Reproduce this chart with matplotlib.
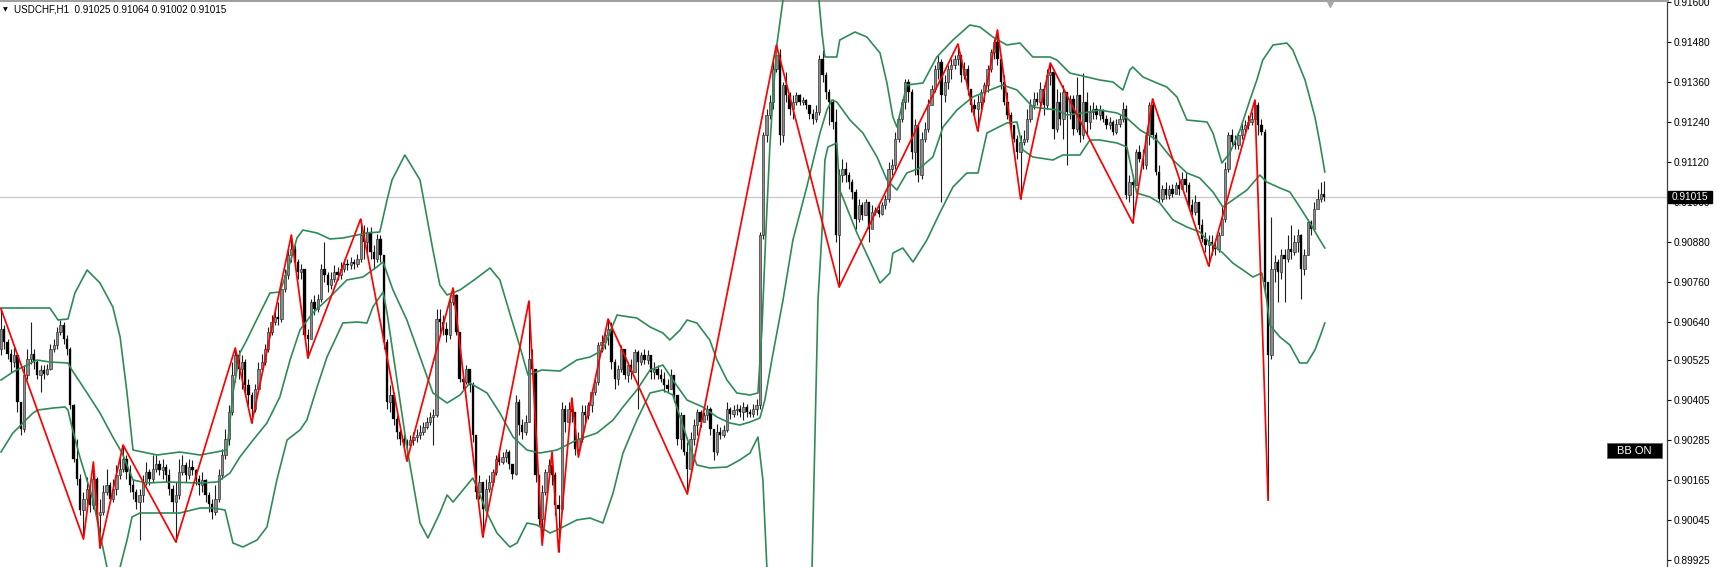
import matplotlib
matplotlib.use("Agg")
import matplotlib.pyplot as plt
from matplotlib.patches import Rectangle
import matplotlib.transforms as mtransforms
import numpy as np

# ---------------- data (prices in points above 0.90000, 1 point = 0.00001) ----------------
BASE = 0.90000
POINT = 0.00001

first_open = 560
close_pts = [620, 580, 545, 520, 540, 400, 320, 480, 530, 545,
             520, 480, 495, 485, 500, 560, 570, 610, 630, 590,
             560, 390, 230, 170, 75, 110, 140, 90, 170, 60,
             70, 130, 150, 110, 140, 180, 200, 230, 190, 150,
             130, 100, 120, 160, 190, 170, 200, 215, 195, 205,
             180, 140, 100, 120, 190, 210, 180, 205, 195, 170,
             150, 165, 120, 95, 70, 110, 180, 240, 290, 370,
             480, 540, 500, 520, 450, 420, 380, 440, 500, 520,
             560, 610, 640, 655, 650, 740, 780, 840, 860, 820,
             790, 800, 600, 590, 700, 680, 710, 800, 780, 750,
             770, 790, 780, 800, 815, 810, 820, 815, 830, 900,
             880, 910, 850, 830, 890, 840, 580, 400, 420, 350,
             310, 290, 280, 270, 285, 295, 300, 310, 325, 340,
             355, 360, 650, 640, 620, 600, 700, 720, 610, 470,
             460, 500, 450, 300, 130, 160, 80, 140, 160, 190,
             230, 220, 235, 250, 215, 185, 400, 330, 310, 340,
             530, 500, 180, 50, 130, 190, 210, 180, 90, 80,
             380, 340, 380, 370, 260, 290, 370, 360, 390, 430,
             460, 570, 580, 600, 620, 520, 470, 500, 560, 480,
             510, 490, 550, 520, 540, 525, 540, 490, 500, 480,
             470, 450, 440, 480, 420, 290, 360, 250, 200, 290,
             330, 370, 340, 360, 380, 320, 250, 310, 300, 315,
             380, 365, 375, 380, 370, 385, 370, 365, 380, 390,
             900, 1200, 1260, 1300, 1400, 1440, 1200, 1350, 1320, 1280,
             1300, 1320, 1300, 1305, 1290, 1265, 1250, 1270, 1430, 1380,
             1330, 1300, 1240, 900, 1080, 1100, 1080, 1060, 1030, 950,
             990, 960, 1000, 920, 970, 975, 965, 990, 1010, 1100,
             1110, 1190, 1250, 1300, 1360, 1330, 1150, 1230, 1080, 1190,
             1220, 1290, 1340, 1400, 1420, 1320, 1360, 1400, 1410, 1430,
             1440, 1380, 1400, 1340, 1290, 1280, 1300, 1330, 1350, 1400,
             1450, 1480, 1430, 1360, 1300, 1260, 1230, 1190, 1150, 1180,
             1190, 1250, 1290, 1310, 1300, 1340, 1290, 1380, 1390, 1220,
             1300, 1250, 1330, 1270, 1310, 1220, 1320, 1200, 1300, 1240,
             1270, 1280, 1260, 1275, 1250, 1230, 1240, 1210, 1235, 1250,
             1280, 1020, 1060, 1050, 1150, 1130, 1110, 1200, 1290, 1200,
             1090, 1010, 1040, 1020, 1040, 1025, 1050, 1040, 1070, 1050,
             990, 970, 1000, 930, 890, 870, 880, 870, 860, 900,
             950, 1100, 1200, 1180, 1170, 1200, 1220, 1230, 1240, 1250,
             1290, 1230, 1210, 760, 540, 800, 820, 790, 840, 830,
             860, 850, 880, 900, 800, 840, 940, 920, 980, 1010,
             1025, 1015]
high_pts = [680, 630, 590, 560, 565, 545, 400, 510, 560, 640,
            560, 525, 510, 510, 515, 575, 590, 625, 645, 640,
            600, 565, 395, 290, 185, 130, 175, 150, 220, 175,
            110, 150, 200, 160, 170, 210, 240, 271, 240, 210,
            170, 140, 140, 180, 220, 200, 240, 240, 225, 230,
            215, 200, 150, 160, 230, 240, 220, 230, 225, 200,
            180, 190, 170, 130, 110, 150, 200, 260, 320, 390,
            520, 562, 555, 540, 530, 470, 430, 455, 520, 545,
            575, 625, 660, 680, 700, 760, 800, 860, 901, 870,
            830, 815, 800, 620, 710, 720, 725, 815, 880, 790,
            790, 810, 805, 820, 830, 830, 835, 830, 845, 949,
            930, 925, 925, 870, 905, 900, 840, 590, 450, 430,
            360, 320, 300, 290, 300, 310, 320, 330, 340, 355,
            370, 380, 680, 680, 660, 640, 720, 742, 725, 610,
            490, 510, 500, 460, 300, 180, 150, 170, 180, 200,
            240, 250, 250, 260, 255, 215, 420, 410, 350, 360,
            703, 560, 500, 180, 150, 200, 230, 250, 190, 120,
            400, 390, 400, 412, 370, 310, 390, 390, 400, 440,
            470, 580, 600, 615, 649, 640, 530, 510, 570, 560,
            520, 530, 560, 555, 550, 560, 555, 540, 520, 510,
            500, 490, 470, 500, 480, 420, 370, 360, 280, 310,
            350, 380, 375, 370, 390, 385, 320, 335, 325, 330,
            400, 385, 390, 395, 390, 400, 395, 380, 395, 410,
            910, 1210, 1280, 1320, 1430, 1471, 1460, 1360, 1390, 1330,
            1320, 1330, 1325, 1315, 1310, 1290, 1280, 1290, 1440, 1456,
            1390, 1340, 1310, 1280, 1100, 1130, 1120, 1090, 1070, 1040,
            1010, 1000, 1010, 990, 990, 985, 990, 1000, 1020, 1120,
            1130, 1210, 1260, 1310, 1370, 1370, 1340, 1250, 1230, 1210,
            1240, 1310, 1350, 1410, 1440, 1430, 1380, 1410, 1430, 1440,
            1474, 1440, 1420, 1410, 1340, 1310, 1320, 1340, 1360, 1410,
            1460, 1490, 1516, 1440, 1380, 1330, 1270, 1230, 1200, 1200,
            1215, 1280, 1310, 1330, 1330, 1360, 1350, 1400, 1417, 1400,
            1340, 1330, 1350, 1330, 1320, 1320, 1376, 1320, 1386, 1330,
            1290, 1300, 1290, 1290, 1280, 1260, 1255, 1245, 1250, 1260,
            1300, 1290, 1080, 1080, 1160, 1170, 1160, 1210, 1300, 1309,
            1210, 1110, 1050, 1060, 1050, 1055, 1060, 1070, 1090, 1090,
            1060, 1010, 1020, 1000, 950, 910, 900, 900, 890, 910,
            990, 1120, 1210, 1220, 1200, 1210, 1240, 1245, 1260, 1270,
            1306, 1300, 1250, 1220, 760, 955, 840, 830, 860, 860,
            900, 930, 900, 920, 905, 860, 950, 945, 1000, 1040,
            1060, 1064]
low_pts = [540, 560, 530, 490, 505, 370, 300, 310, 470, 515,
           500, 470, 430, 470, 480, 495, 550, 560, 600, 575,
           540, 380, 220, 150, 60, -11, 90, 70, 80, 40,
           -38, 60, 120, 100, 100, 120, 170, 190, 170, 130,
           110, 80, -14, 100, 150, 150, 160, 190, 180, 170,
           160, 120, 70, -20, 110, 180, 160, 170, 180, 150,
           120, 130, 100, 70, 50, 60, 100, 170, 230, 270,
           360, 460, 470, 440, 420, 390, 337, 370, 430, 490,
           510, 550, 600, 630, 630, 640, 730, 770, 820, 800,
           770, 770, 590, 532, 600, 660, 670, 700, 760, 730,
           740, 760, 765, 770, 790, 795, 800, 800, 805, 820,
           830, 850, 830, 800, 820, 820, 560, 380, 370, 330,
           290, 270, 260, 223, 265, 270, 280, 290, 300, 320,
           330, 270, 355, 600, 600, 580, 590, 690, 600, 460,
           440, 455, 430, 280, 110, 110, -5, 90, 130, 150,
           180, 210, 215, 220, 200, 170, 180, 300, 290, 300,
           340, 480, 160, 30, -29, 120, 180, 150, 60, -50,
           70, 310, 330, 340, 240, 235, 280, 340, 350, 370,
           420, 450, 550, 560, 570, 500, 440, 450, 490, 470,
           460, 470, 490, 380, 510, 515, 515, 470, 470, 470,
           460, 430, 430, 440, 400, 270, 260, 240, 124, 200,
           270, 300, 325, 340, 345, 300, 226, 240, 290, 295,
           310, 350, 355, 360, 355, 345, 355, 355, 355, 360,
           380, 890, 1180, 1250, 1280, 1390, 1170, 1180, 1300, 1260,
           1250, 1290, 1290, 1290, 1280, 1250, 1235, 1240, 1260, 1360,
           1310, 1230, 1220, 880, 745, 1060, 1060, 1040, 1010, 920,
           940, 945, 960, 880, 945, 960, 955, 960, 980, 1000,
           1080, 1100, 1180, 1240, 1280, 1300, 1130, 1080, 1060, 1070,
           1180, 1210, 1290, 1330, 1370, 1000, 1300, 1340, 1370, 1400,
           1410, 1360, 1370, 1320, 1270, 1260, 1213, 1280, 1300, 1330,
           1390, 1430, 1410, 1340, 1290, 1250, 1210, 1180, 1130, 1009,
           1170, 1180, 1240, 1280, 1290, 1280, 1260, 1280, 1350, 1190,
           1210, 1230, 1190, 1110, 1250, 1200, 1210, 1180, 1190, 1200,
           1220, 1250, 1250, 1245, 1240, 1220, 1220, 1200, 1205, 1225,
           1240, 1010, 1000, 937, 1050, 1120, 1100, 1100, 1170, 1190,
           1080, 1000, 1000, 1010, 1010, 1015, 1030, 1020, 1040, 1030,
           980, 960, 960, 920, 880, 850, 808, 840, 840, 850,
           930, 940, 1090, 1170, 1160, 1160, 1190, 1210, 1220, 1230,
           1245, 1200, 1200, 720, 106, 530, 760, 700, 770, 700,
           820, 830, 840, 850, 710, 780, 840, 900, 940, 980,
           1000, 1002]

# ZigZag pivots (bar index, price points)
zz_bar = [0, 25, 28, 30, 37, 53, 71, 76, 88, 93, 109, 123, 137, 146, 160, 164, 167,
          169, 173, 175, 184, 208, 235, 254, 290, 296, 302, 309, 318, 343, 349, 366, 380, 384]
zz_pts = [680, -11, 220, -38, 271, -20, 562, 337, 901, 532, 949, 223, 742, -5, 703, -29, 250,
          -50, 412, 235, 649, 124, 1471, 745, 1474, 1213, 1516, 1009, 1417, 937, 1309, 808, 1306, 106]

# Bollinger bands (bar position, price points)
bb_up_bar = [0, 14.8, 17.3, 20.3, 22.4, 26.1, 30.0, 33.9, 36.1, 38.2,
             40.0, 47.3, 54.2, 60.3, 68.5, 70.3, 72.4, 74.5, 76.4, 79.4,
             81.5, 84.5, 87.6, 89.7, 91.5, 95.8, 99.7, 103.6, 110.9, 114.8,
             117.0, 118.5, 122.4, 127.0, 130.9, 133.0, 135.2, 139.1, 144.2, 148.2,
             151.2, 154.8, 157.3, 159.7, 163.9, 169.4, 174.5, 178.5, 182.4, 186.7,
             188.5, 192.7, 196.7, 200.6, 202.7, 205.8, 207.9, 210.9, 214.8, 217.0,
             220.0, 223.0, 227.0, 229.4, 230.6, 231.8, 233.0, 233.9, 235.2, 237.0,
             240.6, 245.2, 247.6, 248.8, 249.7, 253.3, 254.2, 258.8, 262.4, 266.4,
             268.5, 270.3, 271.5, 274.5, 279.4, 283.6, 288.5, 293.6, 296.7, 300.6,
             304.8, 308.8, 312.7, 317.9, 320.0, 323.9, 329.1, 333.0, 337.0, 340.0,
             342.1, 343.0, 346.1, 350.3, 353.3, 356.4, 359.4, 365.5, 367.3, 370.0,
             372.4, 375.5, 378.5, 380.6, 382.4, 385.5, 389.7, 391.5, 393.6, 395.2,
             398.2, 399.7, 401.2]
bb_up_pts = [682, 682, 646, 649, 727, 796, 757, 685, 595, 427,
             256, 241, 250, 241, 256, 427, 547, 586, 625, 685,
             727, 730, 817, 892, 916, 907, 889, 892, 907, 910,
             1006, 1066, 1141, 1066, 856, 751, 721, 736, 772, 802,
             766, 646, 565, 481, 496, 493, 526, 535, 556, 661,
             658, 652, 625, 607, 586, 616, 646, 637, 586, 526,
             466, 427, 421, 427, 616, 907, 1165, 1306, 1477, 1606,
             1906, 1786, 1636, 1507, 1435, 1435, 1486, 1510, 1495, 1447,
             1357, 1255, 1225, 1351, 1357, 1435, 1486, 1531, 1525, 1495,
             1471, 1477, 1435, 1435, 1426, 1387, 1375, 1366, 1360, 1336,
             1396, 1405, 1375, 1357, 1345, 1315, 1246, 1240, 1207, 1117,
             1147, 1216, 1306, 1366, 1426, 1471, 1477, 1456, 1405, 1366,
             1255, 1177, 1090]

bb_mid_bar = [0, 3.6, 10.9, 14.8, 20.3, 21.5, 26.1, 30.0, 33.9, 36.7,
              40.0, 44.2, 50.3, 60.3, 65.5, 69.4, 72.4, 76.4, 80.6, 84.5,
              87.6, 90.6, 94.5, 99.7, 104.8, 109.7, 113.9, 115.8, 118.8, 123.0,
              127.0, 130.9, 135.2, 139.1, 142.1, 147.3, 151.2, 155.2, 159.4, 163.3,
              168.5, 174.5, 180.6, 185.5, 188.5, 192.7, 196.7, 200.6, 203.6, 207.9,
              212.7, 217.0, 220.9, 223.9, 227.0, 230.0, 231.5, 233.6, 237.0, 240.0,
              244.2, 248.2, 250.3, 251.8, 253.3, 257.3, 261.2, 265.5, 268.5, 271.5,
              274.5, 278.5, 282.4, 285.5, 289.7, 294.5, 299.7, 303.6, 307.9, 312.7,
              320.0, 323.0, 327.9, 333.0, 338.2, 341.2, 345.2, 350.3, 355.2, 359.4,
              363.3, 367.3, 370.3, 373.3, 377.6, 381.5, 383.6, 387.6, 390.6, 393.6,
              396.7, 399.7, 401.2]
bb_mid_pts = [466, 490, 526, 520, 517, 496, 427, 367, 295, 247,
              166, 157, 160, 157, 160, 187, 235, 286, 337, 415,
              526, 616, 667, 715, 766, 775, 805, 820, 736, 646,
              535, 427, 397, 421, 457, 427, 367, 295, 256, 247,
              256, 286, 307, 346, 385, 436, 496, 511, 466, 406,
              385, 355, 337, 331, 340, 352, 406, 526, 706, 886,
              1045, 1207, 1276, 1306, 1300, 1246, 1207, 1135, 1066, 1036,
              1087, 1102, 1135, 1225, 1276, 1315, 1336, 1351, 1336, 1285,
              1276, 1261, 1267, 1276, 1267, 1252, 1216, 1186, 1126, 1087,
              1072, 1030, 985, 1006, 1036, 1081, 1060, 1042, 1030, 985,
              937, 886, 862]

bb_low_bar = [0, 3.6, 9.7, 11.2, 15.8, 19.4, 20.3, 21.5, 23.9, 27.9,
              32.1, 33.9, 36.1, 38.2, 39.7, 42.1, 47.3, 54.2, 60.3, 64.2,
              67.9, 70.3, 73.3, 77.6, 80.6, 83.6, 86.7, 90.6, 92.7, 95.8,
              98.8, 103.6, 107.9, 110.9, 112.7, 115.8, 117.0, 120.0, 123.0, 127.0,
              129.4, 133.0, 135.2, 137.0, 140.0, 143.0, 144.2, 147.3, 150.3, 154.2,
              156.4, 159.4, 162.4, 166.4, 168.5, 174.5, 178.5, 182.4, 185.5, 188.5,
              192.7, 196.7, 200.6, 203.6, 208.8, 210.9, 214.8, 220.0, 223.9, 227.0,
              229.4, 230.9, 232.1, 234.5, 239.1, 243.6, 245.8, 247.6, 248.8, 249.7,
              250.6, 253.3, 254.2, 259.4, 266.4, 269.4, 270.3, 273.3, 276.4, 280.6,
              284.5, 288.5, 292.7, 296.1, 298.8, 304.8, 307.9, 309.7, 312.7, 318.8,
              321.8, 327.0, 330.0, 333.0, 338.2, 341.2, 344.2, 348.2, 351.2, 355.2,
              359.4, 363.3, 366.4, 370.3, 373.3, 376.4, 379.4, 382.1, 383.6, 384.5,
              387.6, 390.6, 393.6, 395.8, 398.2, 399.7, 401.2]
bb_low_pts = [250, 307, 367, 376, 382, 385, 376, 325, 235, 106,
              -95, -194, -95, -14, 55, 67, 67, 67, 82, 82,
              76, -23, -35, -14, 25, 166, 286, 316, 346, 445,
              535, 637, 640, 637, 685, 730, 667, 466, 265, 37,
              -8, 67, 121, 100, 136, 172, 145, 67, 7, -35,
              -23, 37, 31, 7, 16, 46, 52, 37, 127, 247,
              346, 427, 436, 421, 265, 211, 202, 205, 226, 247,
              295, 166, -95, -344, -494, -344, -95, 706, 907, 1126,
              1165, 1177, 1036, 907, 757, 787, 847, 862, 820, 886,
              967, 1045, 1087, 1087, 1207, 1237, 1240, 1156, 1135, 1126,
              1141, 1141, 1186, 1186, 1177, 1165, 1027, 1015, 997, 946,
              925, 910, 877, 847, 817, 796, 775, 787, 706, 631,
              595, 571, 517, 517, 556, 595, 637]

ytick_labels = ["0.91600", "0.91480", "0.91360", "0.91240", "0.91120", "0.91000",
                "0.90880", "0.90760", "0.90640", "0.90525", "0.90405", "0.90285",
                "0.90165", "0.90045", "0.89925"]
title_text = "USDCHF,H1  0.91025 0.91064 0.91002 0.91015"
last_price_text = "0.91015"
last_price = 0.91015
indicator_label = "BB ON"

# ---------------- helpers ----------------
def to_price(pts):
    return BASE + np.asarray(pts, dtype=float) * POINT

close = to_price(close_pts)
high = to_price(high_pts)
low = to_price(low_pts)
opens = np.concatenate([[to_price(first_open)], close[:-1]])
idx = np.arange(len(close))

FONT = "Liberation Sans"

fig = plt.figure(figsize=(17.17, 5.67), dpi=100)
fig.patch.set_facecolor("white")
ax = fig.add_axes([0, 0, 1667 / 1717, 1.0])
ax.set_facecolor("white")

ax.set_xlim(-0.3, 504.9)
ax.set_ylim(0.89905, 0.91606)

# current price line
ax.axhline(last_price, color="#c8c8c8", lw=0.9, zorder=0)

# wicks
ax.vlines(idx, low, high, color="#1e1e1e", lw=0.8, zorder=2)
# bodies
bull = close >= opens
bottoms = np.minimum(opens, close)
heights = np.maximum(np.abs(close - opens), 2 * POINT)
ax.bar(idx[bull], heights[bull], bottom=bottoms[bull], width=0.7,
       color="#8c8c8c", edgecolor="#2a2a2a", linewidth=0.45, zorder=3)
ax.bar(idx[~bull], heights[~bull], bottom=bottoms[~bull], width=0.7,
       color="#000000", edgecolor="#000000", linewidth=0.2, zorder=3)

# Bollinger bands
bb_color = "#2e8b57"
ax.plot(bb_up_bar, to_price(bb_up_pts), color=bb_color, lw=1.2, zorder=4)
ax.plot(bb_mid_bar, to_price(bb_mid_pts), color=bb_color, lw=1.2, zorder=4)
ax.plot(bb_low_bar, to_price(bb_low_pts), color=bb_color, lw=1.2, zorder=4)

# ZigZag
ax.plot(zz_bar, to_price(zz_pts), color="#ff0000", lw=1.25, zorder=5)

# axes styling
for s in ("left", "bottom"):
    ax.spines[s].set_visible(False)
ax.spines["right"].set_color("#404040")
ax.spines["right"].set_linewidth(0.9)
ax.spines["top"].set_color("#a0a0a0")
ax.spines["top"].set_linewidth(2.2)
ax.set_xticks([])
ax.yaxis.tick_right()
ax.set_yticks([float(t) for t in ytick_labels])
ax.set_yticklabels(ytick_labels)
ax.tick_params(axis="y", direction="out", length=3, width=0.8, pad=2,
               labelsize=7.3, colors="#000000")
for lab in ax.get_yticklabels():
    lab.set_fontfamily(FONT)

# current price tag on the axis (drawn over the 0.91000 label, as in MT4)
blend = mtransforms.blended_transform_factory(ax.transAxes, ax.transData)
ax.add_patch(Rectangle((1.0006, last_price - 0.000165), 0.0266, 0.00033,
                       transform=blend, facecolor="black", edgecolor="black",
                       clip_on=False, zorder=10))
ax.text(1.0006 + 0.0133, last_price, last_price_text, transform=blend,
        ha="center", va="center", color="white", fontsize=7.3,
        family=FONT, zorder=11, clip_on=False)

# indicator label
ax.add_patch(Rectangle((1607 / 1667, 1 - 458 / 567), 55 / 1667, 15 / 567,
                       transform=ax.transAxes, facecolor="black", edgecolor="#606060",
                       lw=0.6, zorder=10, clip_on=False))
ax.text(1634.5 / 1667, 1 - 450.5 / 567, indicator_label, transform=ax.transAxes,
        ha="center", va="center", color="white", fontsize=8, family=FONT, zorder=11)

# chart shift marker
ax.plot([1330 / 1667], [0.993], marker="v", ms=5, color="#a8a8a8",
        transform=ax.transAxes, clip_on=False, zorder=12)

# title
fig.text(2.5 / 1717, 1 - 9.5 / 567, "\u25BC", fontsize=4.5, family="DejaVu Sans",
         va="center", ha="left", color="black")
fig.text(14 / 1717, 1 - 9.5 / 567, title_text, fontsize=7.1, family=FONT,
         va="center", ha="left", color="black")

fig.savefig("out.png", dpi=100, facecolor="white")
